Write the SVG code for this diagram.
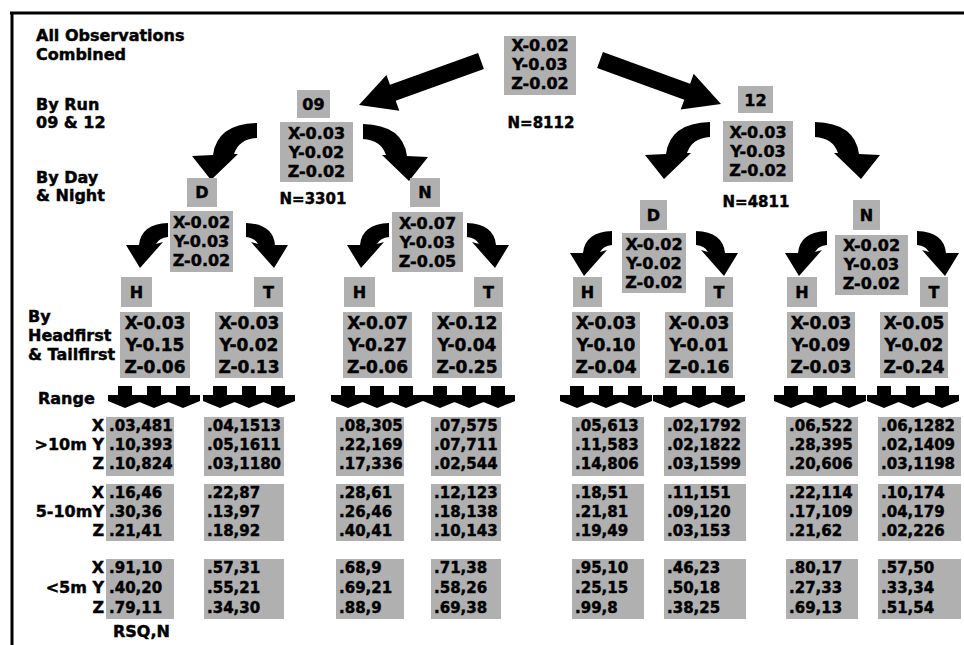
<svg xmlns="http://www.w3.org/2000/svg" xmlns:xlink="http://www.w3.org/1999/xlink" width="964" height="645" viewBox="0 0 964 645">
<style>
.t{font-family:"DejaVu Sans","Liberation Sans",sans-serif;font-weight:bold;fill:#000;stroke:#000;stroke-width:0.45px}
.lab{font-size:16px}
.v{font-size:16px;text-anchor:middle}
.v4{font-size:17px;text-anchor:middle}
.r{font-size:15px}
.n{font-size:15px;text-anchor:middle}
.le{font-size:16px;text-anchor:middle}
.re{font-size:16px;text-anchor:end}
.box{fill:#b0b0b0}
.arr{fill:#000}
</style>
<defs>
<path id="cl" d="M65,0 L65,15 Q47,16 42,31 L46,31 L19,57 L0,33 L21,32 Q25,1 65,0 Z"/>
<path id="cs" d="M42,0 L42,14 Q33,15 30,21 L37,19 L14,45 L0,22 L13,22 Q15,1 42,0 Z"/>
<path id="dn" d="M-36,0 H-22 V9 H-12 V15 L-29,22 L-46,15 V9 H-36 Z M-7,0 H7 V9 H17 V15 L0,22 L-17,15 V9 H-7 Z M22,0 H36 V9 H46 V15 L29,22 L12,15 V9 H22 Z"/>
</defs>
<rect width="964" height="645" fill="#fff"/>
<g id="frame" stroke="#000" stroke-width="3" fill="none">
<line x1="10" y1="13" x2="964" y2="13"/>
<line x1="12" y1="12" x2="12" y2="645"/>
</g>
<g id="labels">
<text class="t lab" x="36" y="41">All Observations</text>
<text class="t lab" x="36" y="60">Combined</text>
<text class="t lab" x="36" y="110">By Run</text>
<text class="t lab" x="36" y="128">09 &amp; 12</text>
<text class="t lab" x="36" y="183">By Day</text>
<text class="t lab" x="36" y="201">&amp; Night</text>
<text class="t lab" x="28" y="322">By</text>
<text class="t lab" x="28" y="341">Headfirst</text>
<text class="t lab" x="28" y="360">&amp; Tailfirst</text>
<text class="t lab" x="38" y="404">Range</text>
<text class="t re" x="104" y="431">X</text>
<text class="t re" x="104" y="450">&gt;10m Y</text>
<text class="t re" x="104" y="469">Z</text>
<text class="t re" x="104" y="498">X</text>
<text class="t re" x="104" y="517">5-10mY</text>
<text class="t re" x="104" y="536">Z</text>
<text class="t re" x="104" y="573">X</text>
<text class="t re" x="104" y="593">&lt;5m Y</text>
<text class="t re" x="104" y="613">Z</text>
<text class="t lab" x="113" y="637">RSQ,N</text>
</g>
<g id="connectors" class="arr">
<polygon points="478.1,53.0 390.0,84.8 386.4,74.9 359,105 399.3,110.7 395.7,100.8 483.9,69.0"/>
<polygon points="602.9,52.0 690.1,83.7 693.7,73.8 721,104 680.7,109.6 684.3,99.7 597.1,68.0"/>
<use xlink:href="#cl" x="192" y="123"/>
<use xlink:href="#cl" transform="translate(428,124) scale(-1,1)"/>
<use xlink:href="#cl" x="645" y="122"/>
<use xlink:href="#cl" transform="translate(880,122) scale(-1,1)"/>
<use xlink:href="#cs" x="126" y="223"/>
<use xlink:href="#cs" transform="translate(288,223) scale(-1,1)"/>
<use xlink:href="#cs" x="347" y="223"/>
<use xlink:href="#cs" transform="translate(509,223) scale(-1,1)"/>
<use xlink:href="#cs" x="570" y="231"/>
<use xlink:href="#cs" transform="translate(738,231) scale(-1,1)"/>
<use xlink:href="#cs" x="785" y="231"/>
<use xlink:href="#cs" transform="translate(959,231) scale(-1,1)"/>
<use xlink:href="#dn" x="154" y="386"/>
<use xlink:href="#dn" x="249" y="386"/>
<use xlink:href="#dn" x="377" y="386"/>
<use xlink:href="#dn" x="469" y="386"/>
<use xlink:href="#dn" x="606" y="386"/>
<use xlink:href="#dn" x="699" y="386"/>
<use xlink:href="#dn" x="820" y="386"/>
<use xlink:href="#dn" x="913" y="386"/>
</g>
<g id="root">
<rect class="box" x="504" y="36" width="72" height="59"/>
<text class="t v" x="540" y="51">X-0.02</text>
<text class="t v" x="540" y="70">Y-0.03</text>
<text class="t v" x="540" y="89">Z-0.02</text>
<text class="t n" x="541" y="128">N=8112</text>
</g>
<g id="run09">
<rect class="box" x="297" y="90" width="33" height="28"/>
<text class="t le" x="313.5" y="110">09</text>
<rect class="box" x="280" y="122" width="73" height="60"/>
<text class="t v" x="316.5" y="139">X-0.03</text>
<text class="t v" x="316.5" y="158">Y-0.02</text>
<text class="t v" x="316.5" y="177">Z-0.02</text>
<text class="t n" x="313" y="204">N=3301</text>
</g>
<g id="run12">
<rect class="box" x="738" y="86" width="35" height="27"/>
<text class="t le" x="755.5" y="106">12</text>
<rect class="box" x="723" y="121" width="70" height="61"/>
<text class="t v" x="758" y="138">X-0.03</text>
<text class="t v" x="758" y="157">Y-0.03</text>
<text class="t v" x="758" y="176">Z-0.02</text>
<text class="t n" x="756" y="207">N=4811</text>
</g>
<g id="d09">
<rect class="box" x="187" y="178" width="30" height="29"/>
<text class="t le" x="202" y="198">D</text>
<rect class="box" x="170" y="211" width="63" height="61"/>
<text class="t v" x="201.5" y="228">X-0.02</text>
<text class="t v" x="201.5" y="247">Y-0.03</text>
<text class="t v" x="201.5" y="266">Z-0.02</text>
</g>
<g id="n09">
<rect class="box" x="410" y="178" width="30" height="29"/>
<text class="t le" x="425" y="198">N</text>
<rect class="box" x="392" y="212" width="71" height="60"/>
<text class="t v" x="427.5" y="229">X-0.07</text>
<text class="t v" x="427.5" y="248">Y-0.03</text>
<text class="t v" x="427.5" y="267">Z-0.05</text>
</g>
<g id="d12">
<rect class="box" x="640" y="200" width="27" height="30"/>
<text class="t le" x="653.5" y="221">D</text>
<rect class="box" x="622" y="233" width="64" height="60"/>
<text class="t v" x="654" y="250">X-0.02</text>
<text class="t v" x="654" y="269">Y-0.02</text>
<text class="t v" x="654" y="288">Z-0.02</text>
</g>
<g id="n12">
<rect class="box" x="853" y="200" width="27" height="30"/>
<text class="t le" x="866.5" y="221">N</text>
<rect class="box" x="835" y="235" width="73" height="60"/>
<text class="t v" x="871.5" y="251">X-0.02</text>
<text class="t v" x="871.5" y="270">Y-0.03</text>
<text class="t v" x="871.5" y="289">Z-0.02</text>
</g>
<g id="h09d">
<rect class="box" x="121" y="277" width="31" height="30"/>
<text class="t le" x="136.5" y="298">H</text>
<rect class="box" x="120" y="312" width="70" height="66"/>
<text class="t v4" x="155" y="329">X-0.03</text>
<text class="t v4" x="155" y="351">Y-0.15</text>
<text class="t v4" x="155" y="373">Z-0.06</text>
</g>
<g id="t09d">
<rect class="box" x="254" y="277" width="29" height="30"/>
<text class="t le" x="268.5" y="298">T</text>
<rect class="box" x="215" y="312" width="68" height="66"/>
<text class="t v4" x="249" y="329">X-0.03</text>
<text class="t v4" x="249" y="351">Y-0.02</text>
<text class="t v4" x="249" y="373">Z-0.13</text>
</g>
<g id="h09n">
<rect class="box" x="344" y="277" width="31" height="30"/>
<text class="t le" x="359.5" y="298">H</text>
<rect class="box" x="343" y="312" width="69" height="66"/>
<text class="t v4" x="377.5" y="329">X-0.07</text>
<text class="t v4" x="377.5" y="351">Y-0.27</text>
<text class="t v4" x="377.5" y="373">Z-0.06</text>
</g>
<g id="t09n">
<rect class="box" x="474" y="277" width="29" height="30"/>
<text class="t le" x="488.5" y="298">T</text>
<rect class="box" x="432" y="312" width="70" height="66"/>
<text class="t v4" x="467" y="329">X-0.12</text>
<text class="t v4" x="467" y="351">Y-0.04</text>
<text class="t v4" x="467" y="373">Z-0.25</text>
</g>
<g id="h12d">
<rect class="box" x="573" y="277" width="29" height="30"/>
<text class="t le" x="587.5" y="298">H</text>
<rect class="box" x="572" y="312" width="68" height="66"/>
<text class="t v4" x="606" y="329">X-0.03</text>
<text class="t v4" x="606" y="351">Y-0.10</text>
<text class="t v4" x="606" y="373">Z-0.04</text>
</g>
<g id="t12d">
<rect class="box" x="705" y="277" width="28" height="30"/>
<text class="t le" x="719" y="298">T</text>
<rect class="box" x="665" y="312" width="68" height="66"/>
<text class="t v4" x="699" y="329">X-0.03</text>
<text class="t v4" x="699" y="351">Y-0.01</text>
<text class="t v4" x="699" y="373">Z-0.16</text>
</g>
<g id="h12n">
<rect class="box" x="787" y="277" width="30" height="30"/>
<text class="t le" x="802" y="298">H</text>
<rect class="box" x="787" y="312" width="68" height="66"/>
<text class="t v4" x="821" y="329">X-0.03</text>
<text class="t v4" x="821" y="351">Y-0.09</text>
<text class="t v4" x="821" y="373">Z-0.03</text>
</g>
<g id="t12n">
<rect class="box" x="920" y="277" width="28" height="30"/>
<text class="t le" x="934" y="298">T</text>
<rect class="box" x="880" y="312" width="68" height="66"/>
<text class="t v4" x="914" y="329">X-0.05</text>
<text class="t v4" x="914" y="351">Y-0.02</text>
<text class="t v4" x="914" y="373">Z-0.24</text>
</g>
<g id="range1">
<rect class="box" x="106" y="417" width="68" height="59"/><rect class="box" x="106" y="484" width="68" height="57"/><rect class="box" x="106" y="559" width="68" height="60"/>
<text class="t r" x="109" y="431">.03,481</text><text class="t r" x="109" y="450">.10,393</text><text class="t r" x="109" y="469">.10,824</text>
<text class="t r" x="109" y="498">.16,46</text><text class="t r" x="109" y="517">.30,36</text><text class="t r" x="109" y="536">.21,41</text>
<text class="t r" x="109" y="573">.91,10</text><text class="t r" x="109" y="593">.40,20</text><text class="t r" x="109" y="613">.79,11</text>
</g>
<g id="range2">
<rect class="box" x="204" y="417" width="80" height="59"/><rect class="box" x="204" y="484" width="80" height="57"/><rect class="box" x="204" y="559" width="80" height="60"/>
<text class="t r" x="207" y="431">.04,1513</text><text class="t r" x="207" y="450">.05,1611</text><text class="t r" x="207" y="469">.03,1180</text>
<text class="t r" x="207" y="498">.22,87</text><text class="t r" x="207" y="517">.13,97</text><text class="t r" x="207" y="536">.18,92</text>
<text class="t r" x="207" y="573">.57,31</text><text class="t r" x="207" y="593">.55,21</text><text class="t r" x="207" y="613">.34,30</text>
</g>
<g id="range3">
<rect class="box" x="336" y="417" width="68" height="59"/><rect class="box" x="336" y="484" width="68" height="57"/><rect class="box" x="336" y="559" width="68" height="60"/>
<text class="t r" x="339" y="431">.08,305</text><text class="t r" x="339" y="450">.22,169</text><text class="t r" x="339" y="469">.17,336</text>
<text class="t r" x="339" y="498">.28,61</text><text class="t r" x="339" y="517">.26,46</text><text class="t r" x="339" y="536">.40,41</text>
<text class="t r" x="339" y="573">.68,9</text><text class="t r" x="339" y="593">.69,21</text><text class="t r" x="339" y="613">.88,9</text>
</g>
<g id="range4">
<rect class="box" x="431" y="417" width="70" height="59"/><rect class="box" x="431" y="484" width="70" height="57"/><rect class="box" x="431" y="559" width="70" height="60"/>
<text class="t r" x="434" y="431">.07,575</text><text class="t r" x="434" y="450">.07,711</text><text class="t r" x="434" y="469">.02,544</text>
<text class="t r" x="434" y="498">.12,123</text><text class="t r" x="434" y="517">.18,138</text><text class="t r" x="434" y="536">.10,143</text>
<text class="t r" x="434" y="573">.71,38</text><text class="t r" x="434" y="593">.58,26</text><text class="t r" x="434" y="613">.69,38</text>
</g>
<g id="range5">
<rect class="box" x="572" y="417" width="72" height="59"/><rect class="box" x="572" y="484" width="72" height="57"/><rect class="box" x="572" y="559" width="72" height="60"/>
<text class="t r" x="575" y="431">.05,613</text><text class="t r" x="575" y="450">.11,583</text><text class="t r" x="575" y="469">.14,806</text>
<text class="t r" x="575" y="498">.18,51</text><text class="t r" x="575" y="517">.21,81</text><text class="t r" x="575" y="536">.19,49</text>
<text class="t r" x="575" y="573">.95,10</text><text class="t r" x="575" y="593">.25,15</text><text class="t r" x="575" y="613">.99,8</text>
</g>
<g id="range6">
<rect class="box" x="664" y="417" width="82" height="59"/><rect class="box" x="664" y="484" width="82" height="57"/><rect class="box" x="664" y="559" width="82" height="60"/>
<text class="t r" x="667" y="431">.02,1792</text><text class="t r" x="667" y="450">.02,1822</text><text class="t r" x="667" y="469">.03,1599</text>
<text class="t r" x="667" y="498">.11,151</text><text class="t r" x="667" y="517">.09,120</text><text class="t r" x="667" y="536">.03,153</text>
<text class="t r" x="667" y="573">.46,23</text><text class="t r" x="667" y="593">.50,18</text><text class="t r" x="667" y="613">.38,25</text>
</g>
<g id="range7">
<rect class="box" x="786" y="417" width="72" height="59"/><rect class="box" x="786" y="484" width="72" height="57"/><rect class="box" x="786" y="559" width="72" height="60"/>
<text class="t r" x="789" y="431">.06,522</text><text class="t r" x="789" y="450">.28,395</text><text class="t r" x="789" y="469">.20,606</text>
<text class="t r" x="789" y="498">.22,114</text><text class="t r" x="789" y="517">.17,109</text><text class="t r" x="789" y="536">.21,62</text>
<text class="t r" x="789" y="573">.80,17</text><text class="t r" x="789" y="593">.27,33</text><text class="t r" x="789" y="613">.69,13</text>
</g>
<g id="range8">
<rect class="box" x="878" y="417" width="83" height="59"/><rect class="box" x="878" y="484" width="83" height="57"/><rect class="box" x="878" y="559" width="83" height="60"/>
<text class="t r" x="881" y="431">.06,1282</text><text class="t r" x="881" y="450">.02,1409</text><text class="t r" x="881" y="469">.03,1198</text>
<text class="t r" x="881" y="498">.10,174</text><text class="t r" x="881" y="517">.04,179</text><text class="t r" x="881" y="536">.02,226</text>
<text class="t r" x="881" y="573">.57,50</text><text class="t r" x="881" y="593">.33,34</text><text class="t r" x="881" y="613">.51,54</text>
</g>
</svg>
